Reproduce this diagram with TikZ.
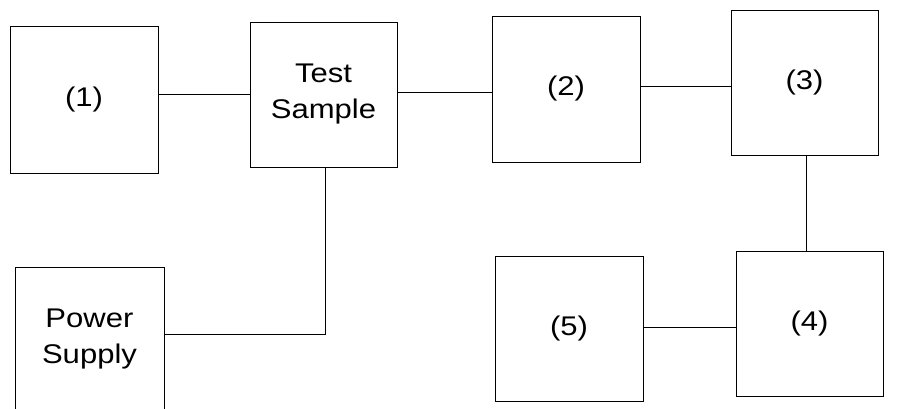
\documentclass[tikz,border=0pt]{standalone}
\usepackage{fontspec}
\newfontfamily\boxfont[FakeStretch=1.15]{Liberation Sans}
\usetikzlibrary{positioning,calc}

\tikzset{
    block/.style={draw, line width=1pt, inner sep=0pt, align=center,
        font=\boxfont\fontsize{27}{36}\selectfont},
    wire/.style={line width=1pt}
}

\begin{document}
\begin{tikzpicture}[x=1pt, y=-1pt]
    \useasboundingbox (0,0) rectangle (901,408);

    % Top row
    \node[block, minimum width=148pt, minimum height=147pt] (one) at (84,100) {(1)};
    \node[block, minimum width=147pt, minimum height=145pt] (sample) at (323.5,94.5) {Test\\Sample};
    \node[block, minimum width=148pt, minimum height=146pt] (two) at (566,89) {(2)};
    \node[block, minimum width=147pt, minimum height=145pt] (three) at (804.5,82.5) {(3)};

    % Bottom row
    \node[block, minimum width=149pt, minimum height=145pt] (power) at (89.5,339.5) {Power\\Supply};
    \node[block, minimum width=148pt, minimum height=145pt] (five) at (569,328.5) {(5)};
    \node[block, minimum width=147pt, minimum height=145pt] (four) at (809.5,323.5) {(4)};

    % Connections
    \draw[wire] (sample.west) -- (sample.west -| one.east);
    \draw[wire] ([yshift=-3pt]two.west) -- ([yshift=-3pt]two.west -| sample.east);
    \draw[wire] ([yshift=3pt]two.east) -- ([yshift=3pt]two.east -| three.west);
    \draw[wire] ([xshift=1.5pt]three.south) -- ([xshift=1.5pt]three.south |- four.north);
    \draw[wire] ([yshift=1.5pt]five.east) -- ([yshift=1.5pt]five.east -| four.west);
    \draw[wire] ([xshift=1.5pt]sample.south) |- ([yshift=5pt]power.east);
\end{tikzpicture}
\end{document}
